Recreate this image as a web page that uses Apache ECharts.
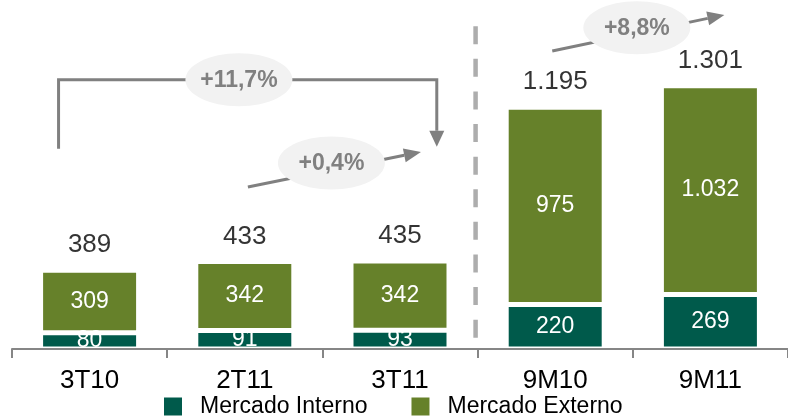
<!DOCTYPE html>
<html><head><meta charset="utf-8">
<script src="https://cdn.jsdelivr.net/npm/echarts@6/dist/echarts.min.js"></script>
<style>html,body{margin:0;padding:0;background:#fff}#c{width:788px;height:418px}</style>
</head><body><div id="c"></div>
<script>
const categories = ['3T10', '2T11', '3T11', '9M10', '9M11'];
const mercadoInterno = [80, 91, 93, 220, 269];
const mercadoExterno = [309, 342, 342, 975, 1032];
const totals = [389, 433, 435, 1195, 1301];
const growthLabels = ['+11,7%', '+0,4%', '+8,8%'];

function fmt(v) { return String(v).replace(/\B(?=(\d{3})+(?!\d))/g, '.'); }
const FONT = '"Liberation Sans", Arial, sans-serif';
const GREY = '#808080';
const chart = echarts.init(document.getElementById('c'), null, { renderer: 'canvas' });

chart.setOption({
  animation: false,
  grid: { left: 12, right: -4, top: 5, bottom: 69 },
  legend: {
    data: ['Mercado Interno', 'Mercado Externo'],
    left: 164, top: 395, padding: 0,
    itemWidth: 18, itemHeight: 18, itemGap: 44, icon: 'rect',
    itemStyle: { borderWidth: 0 },
    textStyle: { fontFamily: FONT, fontSize: 23, color: '#000', padding: [0, 0, 0, 13] }
  },
  xAxis: {
    type: 'category', data: categories, z: 5, boundaryGap: true,
    axisLine: { show: true, lineStyle: { color: '#868686', width: 2 } },
    axisTick: { show: true, alignWithLabel: false, interval: 0, length: 9, lineStyle: { color: '#868686', width: 2 } },
    axisLabel: { fontFamily: FONT, fontSize: 26, color: '#000', margin: 19 }
  },
  yAxis: { type: 'value', min: 0, max: 1700, show: false, splitLine: { show: false } },
  series: [
    {
      name: 'Mercado Interno', type: 'bar', stack: 't', barWidth: 98, data: mercadoInterno,
      itemStyle: { color: '#005A4B', borderColor: '#fff', borderWidth: 2.5 },
      label: { show: true, position: 'inside', color: '#fff', fontFamily: FONT, fontSize: 23, formatter: p => fmt(p.value) }
    },
    {
      name: 'Mercado Externo', type: 'bar', stack: 't', barWidth: 98, data: mercadoExterno,
      itemStyle: { color: '#66812A', borderColor: '#fff', borderWidth: 2.5 },
      label: { show: true, position: 'inside', color: '#fff', fontFamily: FONT, fontSize: 23, formatter: p => fmt(p.value) }
    },
    {
      name: 'Total', type: 'scatter', data: totals, symbolSize: 0, silent: true,
      label: { show: true, position: 'top', distance: 12, color: '#000', fontFamily: FONT, fontSize: 26, formatter: p => fmt(p.value) }
    }
  ]
});

// annotations anchored to the axes
const band = chart.convertToPixel({ xAxisIndex: 0 }, 1) - chart.convertToPixel({ xAxisIndex: 0 }, 0);
function X(c) {
  const i = Math.max(0, Math.min(categories.length - 1, Math.round(c)));
  return chart.convertToPixel({ xAxisIndex: 0 }, i) + (c - i) * band;
}
function Y(v) { return chart.convertToPixel({ yAxisIndex: 0 }, v); }
function head(from, tip, len, half) {
  const dx = tip[0] - from[0], dy = tip[1] - from[1];
  const L = Math.hypot(dx, dy), ux = dx / L, uy = dy / L;
  const bx = tip[0] - ux * len, by = tip[1] - uy * len;
  return { base: [bx, by], pts: [tip, [bx - uy * half, by + ux * half], [bx + uy * half, by - ux * half]] };
}
const g = [];
const lineStyle = { stroke: GREY, lineWidth: 3, fill: null };
function bubble(cx, cy, txt) {
  g.push({ type: 'ellipse', shape: { cx: cx, cy: cy, rx: 53.5, ry: 26.5 }, style: { fill: '#F2F2F2' }, z: 20 });
  g.push({ type: 'text', x: cx, y: cy + 1, style: { text: txt, fontFamily: FONT, fontSize: 23, fontWeight: 'bold', fill: GREY, align: 'center', verticalAlign: 'middle' }, z: 21 });
}
// dashed separator
g.push({ type: 'line', shape: { x1: X(2.487), y1: Y(1595), x2: X(2.487), y2: Y(54) }, style: { stroke: '#ADADAD', lineWidth: 4.5, lineDash: [18, 14.6] }, z: 5 });
// bracket +11,7%
{
  const xl = X(-0.2), xr = X(2.237), yt = Y(1330);
  const h = head([xr, yt], [xr, Y(1000)], 16, 7.5);
  g.push({ type: 'polyline', shape: { points: [[xl, Y(989)], [xl, yt], [xr, yt], h.base] }, style: lineStyle, z: 10 });
  g.push({ type: 'polygon', shape: { points: h.pts }, style: { fill: GREY }, z: 10 });
  bubble(X(0.962), yt, growthLabels[0]);
}
// +0,4%
{
  const s = [X(1.02), Y(801)], t = [X(2.135), Y(974)];
  const h = head(s, t, 17, 7);
  g.push({ type: 'polyline', shape: { points: [s, h.base] }, style: lineStyle, z: 10 });
  g.push({ type: 'polygon', shape: { points: h.pts }, style: { fill: GREY }, z: 10 });
  bubble(X(1.558), Y(919), growthLabels[1]);
}
// +8,8%
{
  const s = [X(2.981), Y(1473)], t = [X(4.09), Y(1651)];
  const h = head(s, t, 17, 7);
  g.push({ type: 'polyline', shape: { points: [s, h.base] }, style: lineStyle, z: 10 });
  g.push({ type: 'polygon', shape: { points: h.pts }, style: { fill: GREY }, z: 10 });
  bubble(X(3.526), Y(1587), growthLabels[2]);
}
chart.setOption({ graphic: g });
</script>
</body></html>
